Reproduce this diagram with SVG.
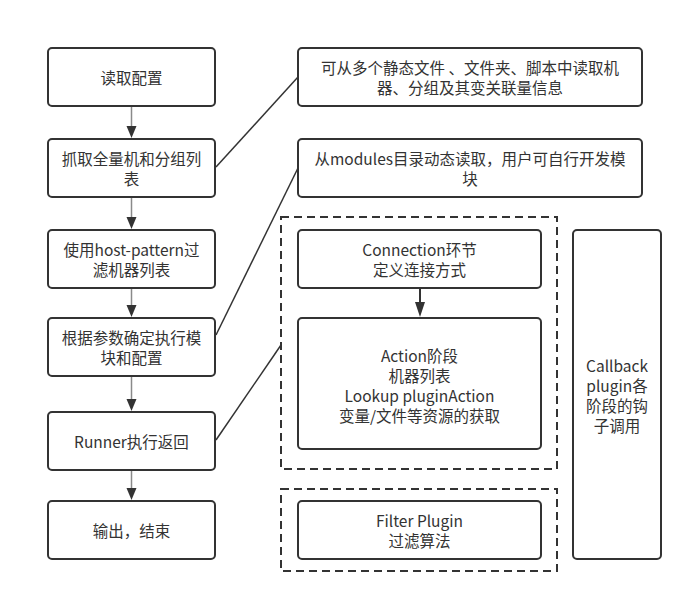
<svg xmlns="http://www.w3.org/2000/svg" width="693" height="603" viewBox="0 0 693 603">
<defs>
<style>
.box{fill:#fff;stroke:#333;stroke-width:2}
.dash{fill:none;stroke:#333;stroke-width:2;stroke-dasharray:8 5}
.t{font-family:"Microsoft YaHei","Noto Sans CJK SC","Noto Sans",sans-serif;font-size:15.5px;fill:#333;text-anchor:middle;dominant-baseline:central}
.ln{fill:none;stroke:#333;stroke-width:1.5}
.gl{fill:none;stroke:#8a8a8a;stroke-width:1.5}
.ah{fill:#333}
</style>
</defs>
<rect width="693" height="603" fill="#fff"/>
<g id="connectors">
<line class="gl" x1="131.5" y1="106" x2="131.5" y2="128"/>
<polygon class="ah" points="126.5,126 136.5,126 131.5,138"/>
<line class="gl" x1="131.5" y1="197" x2="131.5" y2="219"/>
<polygon class="ah" points="126.5,217 136.5,217 131.5,229"/>
<line class="gl" x1="131.5" y1="288" x2="131.5" y2="307"/>
<polygon class="ah" points="126.5,305 136.5,305 131.5,317"/>
<line class="gl" x1="131.5" y1="376" x2="131.5" y2="401"/>
<polygon class="ah" points="126.5,399 136.5,399 131.5,411"/>
<line class="gl" x1="131.5" y1="470" x2="131.5" y2="490"/>
<polygon class="ah" points="126.5,488 136.5,488 131.5,500"/>
<line class="ln" x1="420" y1="288" x2="420" y2="305" style="stroke-width:2"/>
<polygon class="ah" points="415,302 425,302 420,317"/>
<line class="ln" x1="216" y1="167" x2="298" y2="77"/>
<line class="ln" x1="216" y1="335" x2="298" y2="168"/>
<line class="ln" x1="216" y1="440" x2="281" y2="345"/>
</g>
<g id="n1"><rect class="box" x="48" y="48" width="167" height="58" rx="4"/><text class="t" x="131.5" y="77">读取配置</text></g>
<g id="n2"><rect class="box" x="48" y="139" width="167" height="58" rx="4"/><text class="t" x="131.5" y="158">抓取全量机和分组列</text><text class="t" x="131.5" y="178">表</text></g>
<g id="n3"><rect class="box" x="48" y="230" width="167" height="58" rx="4"/><text class="t" x="131.5" y="249">使用host-pattern过</text><text class="t" x="131.5" y="269">滤机器列表</text></g>
<g id="n4"><rect class="box" x="48" y="318" width="167" height="58" rx="4"/><text class="t" x="131.5" y="337">根据参数确定执行模</text><text class="t" x="131.5" y="357">块和配置</text></g>
<g id="n5"><rect class="box" x="48" y="412" width="167" height="58" rx="4"/><text class="t" x="131.5" y="441">Runner执行返回</text></g>
<g id="n6"><rect class="box" x="48" y="501" width="167" height="58" rx="4"/><text class="t" x="131.5" y="530">输出，结束</text></g>
<g id="nA"><rect class="box" x="298" y="48" width="344" height="58" rx="4"/><text class="t" x="470" y="67">可从多个静态文件 、文件夹、脚本中读取机</text><text class="t" x="470" y="87">器、分组及其变关联量信息</text></g>
<g id="nB"><rect class="box" x="298" y="139" width="344" height="58" rx="4"/><text class="t" x="470" y="158">从modules目录动态读取，用户可自行开发模</text><text class="t" x="470" y="178">块</text></g>
<g id="g1"><rect class="dash" x="281" y="217" width="276" height="252"/></g>
<g id="nC"><rect class="box" x="298" y="230" width="243" height="58" rx="4"/><text class="t" x="419.5" y="249">Connection环节</text><text class="t" x="419.5" y="269">定义连接方式</text></g>
<g id="nD"><rect class="box" x="298" y="318" width="243" height="131" rx="4"/><text class="t" x="419.5" y="355">Action阶段</text><text class="t" x="419.5" y="375">机器列表</text><text class="t" x="419.5" y="395">Lookup pluginAction</text><text class="t" x="419.5" y="415">变量/文件等资源的获取</text></g>
<g id="g2"><rect class="dash" x="281" y="489" width="276" height="82"/></g>
<g id="nF"><rect class="box" x="298" y="501" width="243" height="58" rx="4"/><text class="t" x="419.5" y="520">Filter Plugin</text><text class="t" x="419.5" y="540">过滤算法</text></g>
<g id="nCb"><rect class="box" x="573" y="230" width="88" height="329" rx="4"/><text class="t" x="617" y="365">Callback</text><text class="t" x="617" y="385">plugin各</text><text class="t" x="617" y="405">阶段的钩</text><text class="t" x="617" y="425">子调用</text></g>
</svg>
